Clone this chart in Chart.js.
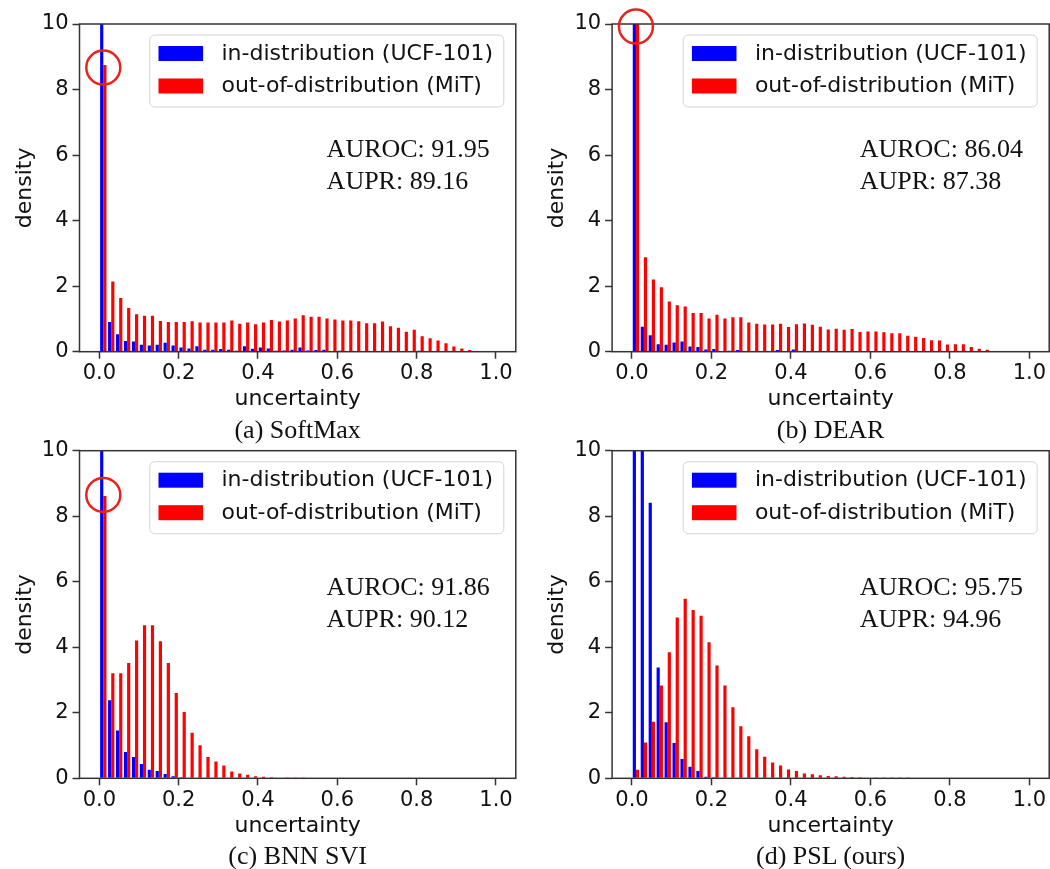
<!DOCTYPE html>
<html>
<head>
<meta charset="utf-8">
<title>Uncertainty histograms</title>
<script src="https://cdn.jsdelivr.net/npm/chart.js@4.4.0/dist/chart.umd.min.js"></script>
<style>
  html, body { margin: 0; padding: 0; background: #fff; overflow: hidden; }
  #page { position: relative; width: 1050px; height: 869px; }
  canvas { position: absolute; }
  .caption {
    position: absolute;
    font-family: "Liberation Serif", "Times New Roman", serif;
    font-size: 26px;
    color: #111;
    white-space: nowrap;
    transform: translate(-50%, -50%);
  }
</style>
</head>
<body>
<div id="page">
  <canvas id="chartA"></canvas>
  <canvas id="chartB"></canvas>
  <canvas id="chartC"></canvas>
  <canvas id="chartD"></canvas>
</div>
<script>
// histogram bins (width 0.02 on [0, 1])
const binCenters = Array.from({ length: 50 }, (_, i) => Math.round((0.01 + 0.02 * i) * 1000) / 1000);
const xTickValues = [0, 0.2, 0.4, 0.6, 0.8, 1.0];
const yTickValues = [0, 2, 4, 6, 8, 10];

const seriesLabels = ['in-distribution (UCF-101)', 'out-of-distribution (MiT)'];

// (a) SoftMax
const softmaxIn = [12, 0.91, 0.53, 0.33, 0.31, 0.21, 0.19, 0.21, 0.27, 0.19,
  0.13, 0.10, 0.17, 0.06, 0.06, 0.08, 0.06, 0.03, 0.17, 0.09,
  0.13, 0.10, 0.03, 0.04, 0.06, 0.13, 0.04, 0.05, 0.06, 0.02,
  0.03, 0.02, 0.02, 0.01, 0.02, 0.01, 0.01, 0.01, 0.01, 0.01,
  0.03, 0.01, 0.01, 0.01, 0, 0, 0, 0, 0, 0];
const softmaxOut = [8.75, 2.14, 1.64, 1.33, 1.14, 1.10, 1.10, 0.94, 0.91, 0.91,
  0.91, 0.93, 0.89, 0.89, 0.89, 0.89, 0.95, 0.85, 0.89, 0.84,
  0.89, 0.97, 0.92, 0.95, 1.01, 1.11, 1.07, 1.07, 1.01, 0.98,
  0.95, 0.95, 0.93, 0.87, 0.87, 0.92, 0.78, 0.73, 0.61, 0.67,
  0.47, 0.41, 0.34, 0.26, 0.16, 0.10, 0.05, 0.02, 0.01, 0];

// (b) DEAR
const dearIn = [12, 0.76, 0.50, 0.23, 0.21, 0.28, 0.31, 0.16, 0.14, 0.07,
  0.08, 0.02, 0.03, 0.05, 0.02, 0.01, 0.02, 0.02, 0.05, 0.02,
  0.07, 0.01, 0.01, 0.01, 0.02, 0.01, 0.01, 0.01, 0.01, 0.01,
  0.01, 0, 0, 0, 0, 0, 0, 0, 0, 0,
  0, 0, 0, 0, 0, 0, 0, 0, 0, 0];
const dearOut = [11, 2.88, 2.20, 1.97, 1.53, 1.42, 1.38, 1.18, 1.18, 1.01,
  1.13, 1.01, 1.05, 1.05, 0.89, 0.85, 0.83, 0.83, 0.85, 0.75,
  0.84, 0.86, 0.82, 0.76, 0.68, 0.70, 0.67, 0.69, 0.60, 0.62,
  0.62, 0.59, 0.56, 0.56, 0.49, 0.46, 0.42, 0.35, 0.34, 0.22,
  0.23, 0.23, 0.14, 0.09, 0.06, 0.02, 0.01, 0, 0, 0];

// (c) BNN SVI
const bnnIn = [12, 2.38, 1.46, 0.80, 0.65, 0.44, 0.26, 0.22, 0.13, 0.06,
  0.03, 0.02, 0, 0, 0, 0, 0, 0, 0, 0,
  0, 0, 0, 0, 0, 0, 0, 0, 0, 0,
  0, 0, 0, 0, 0, 0, 0, 0, 0, 0,
  0, 0, 0, 0, 0, 0, 0, 0, 0, 0];
const bnnOut = [8.62, 3.21, 3.21, 3.52, 4.21, 4.67, 4.67, 4.18, 3.52, 2.60,
  2.02, 1.39, 1.01, 0.65, 0.51, 0.39, 0.21, 0.15, 0.11, 0.06,
  0.05, 0.03, 0.02, 0.01, 0.01, 0.01, 0, 0, 0, 0,
  0, 0, 0, 0, 0, 0, 0, 0, 0, 0,
  0, 0, 0, 0, 0, 0, 0, 0, 0, 0];

// (d) PSL (ours)
const pslIn = [12, 12, 8.41, 3.38, 1.71, 1.08, 0.59, 0.35, 0.22, 0.05,
  0.03, 0, 0, 0, 0, 0, 0, 0, 0, 0,
  0, 0, 0, 0, 0, 0, 0, 0, 0, 0,
  0, 0, 0, 0, 0, 0, 0, 0, 0, 0,
  0, 0, 0, 0, 0, 0, 0, 0, 0, 0];
const pslOut = [0.26, 1.09, 1.73, 2.83, 3.85, 4.91, 5.48, 5.14, 4.96, 4.15,
  3.44, 2.83, 2.17, 1.59, 1.28, 0.89, 0.66, 0.48, 0.39, 0.27,
  0.22, 0.15, 0.12, 0.09, 0.07, 0.06, 0.05, 0.04, 0.03, 0.02,
  0.01, 0.01, 0.01, 0.01, 0.01, 0, 0, 0, 0, 0,
  0, 0, 0, 0, 0, 0, 0, 0, 0, 0];

const captions = ['(a) SoftMax', '(b) DEAR', '(c) BNN SVI', '(d) PSL (ours)'];
const scoreLines = [
  ['AUROC: 91.95', 'AUPR: 89.16'],
  ['AUROC: 86.04', 'AUPR: 87.38'],
  ['AUROC: 91.86', 'AUPR: 90.12'],
  ['AUROC: 95.75', 'AUPR: 94.96']
];
// y value of the red highlight circle around the first bin (null = none)
const circleValues = [8.67, 9.92, 8.65, null];

const BLUE = '#0000ff';
const RED = '#ff0000';
const INK = '#111111';

Chart.defaults.font.family = '"DejaVu Sans", sans-serif';
Chart.defaults.font.size = 21;
Chart.defaults.color = INK;

// canvas boxes and the plot area inside them, in page pixels
const panels = [
  { id: 'chartA', canvas: { left: 0, top: 0, w: 525, h: 415 }, area: { l: 79.5, t: 24, r: 515.8, b: 351.7 }, noteY: [5.95, 4.96] },
  { id: 'chartB', canvas: { left: 532, top: 0, w: 518, h: 415 }, area: { l: 612.1, t: 24, r: 1049.2, b: 351.7 }, noteY: [5.95, 4.96] },
  { id: 'chartC', canvas: { left: 0, top: 427, w: 525, h: 415 }, area: { l: 79.5, t: 450.7, r: 515.8, b: 778.3 }, noteY: [5.6, 4.63] },
  { id: 'chartD', canvas: { left: 532, top: 427, w: 518, h: 415 }, area: { l: 612.1, t: 450.7, r: 1049.2, b: 778.3 }, noteY: [5.6, 4.63] }
];

// spines, matplotlib-style legend, score text and highlight circle
const decorations = {
  id: 'decorations',
  afterDatasetsDraw(chart, args, opts) {
    const { ctx, chartArea: a, scales: { x, y } } = chart;
    ctx.save();

    ctx.strokeStyle = '#333';
    ctx.lineWidth = 1.5;
    ctx.strokeRect(a.left, a.top, a.right - a.left, a.bottom - a.top);

    const bw = 354, bh = 72;
    const bx = a.right - 12 - bw, by = a.top + 11;
    ctx.beginPath();
    if (ctx.roundRect) ctx.roundRect(bx, by, bw, bh, 5); else ctx.rect(bx, by, bw, bh);
    ctx.fillStyle = 'rgba(255,255,255,0.8)';
    ctx.fill();
    ctx.strokeStyle = '#d4d4d4';
    ctx.lineWidth = 1;
    ctx.stroke();

    ctx.font = '22px "DejaVu Sans"';
    ctx.textBaseline = 'middle';
    ctx.textAlign = 'left';
    chart.data.datasets.forEach((ds, i) => {
      const cy = by + 18.5 + i * 32.5;
      ctx.fillStyle = ds.backgroundColor;
      ctx.fillRect(bx + 8.7, cy - 7.5, 44.6, 15);
      ctx.fillStyle = INK;
      ctx.fillText(ds.label, bx + 71.7, cy + 0.5);
    });

    ctx.font = '26px "Liberation Serif"';
    ctx.textBaseline = 'alphabetic';
    ctx.fillStyle = INK;
    opts.lines.forEach((t, i) => {
      ctx.fillText(t, x.getPixelForValue(opts.noteX), y.getPixelForValue(opts.noteY[i]));
    });

    if (opts.circleY !== null) {
      ctx.beginPath();
      ctx.arc(x.getPixelForValue(binCenters[0]), y.getPixelForValue(opts.circleY), 17, 0, Math.PI * 2);
      ctx.strokeStyle = '#e8231c';
      ctx.lineWidth = 2.5;
      ctx.stroke();
    }
    ctx.restore();
  }
};

function toPoints(values) {
  return binCenters.map((c, i) => ({ x: c, y: values[i] }));
}

function makePanel(p, inValues, outValues, idx) {
  const el = document.getElementById(p.id);
  el.width = p.canvas.w;
  el.height = p.canvas.h;
  el.style.left = p.canvas.left + 'px';
  el.style.top = p.canvas.top + 'px';
  el.style.width = p.canvas.w + 'px';
  el.style.height = p.canvas.h + 'px';

  const yAxisWidth = p.area.l - p.canvas.left;
  const xAxisHeight = p.canvas.top + p.canvas.h - p.area.b;

  const tickGrid = {
    display: true,
    drawOnChartArea: false,
    drawTicks: true,
    tickLength: 7,
    tickWidth: 1.5,
    tickColor: '#333',
    offset: false
  };

  new Chart(el, {
    type: 'bar',
    data: {
      datasets: [
        { label: seriesLabels[0], data: toPoints(inValues), backgroundColor: BLUE, borderWidth: 0 },
        { label: seriesLabels[1], data: toPoints(outValues), backgroundColor: RED, borderWidth: 0 }
      ]
    },
    options: {
      responsive: false,
      animation: false,
      events: [],
      categoryPercentage: 0.8,
      barPercentage: 1.0,
      layout: {
        padding: {
          left: 0,
          top: p.area.t - p.canvas.top,
          right: p.canvas.left + p.canvas.w - p.area.r,
          bottom: 0
        }
      },
      plugins: {
        legend: { display: false },
        tooltip: { enabled: false },
        decorations: {
          lines: scoreLines[idx],
          noteX: 0.573,
          noteY: p.noteY,
          circleY: circleValues[idx]
        }
      },
      scales: {
        x: {
          type: 'linear',
          min: -0.05,
          max: 1.05,
          offset: false,
          grid: tickGrid,
          border: { display: false },
          ticks: {
            padding: 2.5,
            color: INK,
            callback: (v) => v.toFixed(1)
          },
          afterBuildTicks: (s) => { s.ticks = xTickValues.map((v) => ({ value: v })); },
          afterFit: (s) => { s.height = xAxisHeight; },
          title: {
            display: true,
            text: 'uncertainty',
            color: INK,
            font: { size: 22 },
            padding: { top: 0, bottom: xAxisHeight - 48 - 13.2 }
          }
        },
        y: {
          min: 0,
          max: 10,
          grid: tickGrid,
          border: { display: false },
          ticks: { padding: 4, color: INK },
          afterBuildTicks: (s) => { s.ticks = yTickValues.map((v) => ({ value: v })); },
          afterFit: (s) => { s.width = yAxisWidth; },
          title: {
            display: true,
            text: 'density',
            color: INK,
            font: { size: 22 },
            padding: { top: 12, bottom: 0 }
          }
        }
      }
    },
    plugins: [decorations]
  });

  const cap = document.createElement('div');
  cap.className = 'caption';
  cap.textContent = captions[idx];
  cap.style.left = ((p.area.l + p.area.r) / 2) + 'px';
  cap.style.top = (p.area.b + 78) + 'px';
  document.getElementById('page').appendChild(cap);
}

makePanel(panels[0], softmaxIn, softmaxOut, 0);
makePanel(panels[1], dearIn, dearOut, 1);
makePanel(panels[2], bnnIn, bnnOut, 2);
makePanel(panels[3], pslIn, pslOut, 3);
</script>
</body>
</html>
